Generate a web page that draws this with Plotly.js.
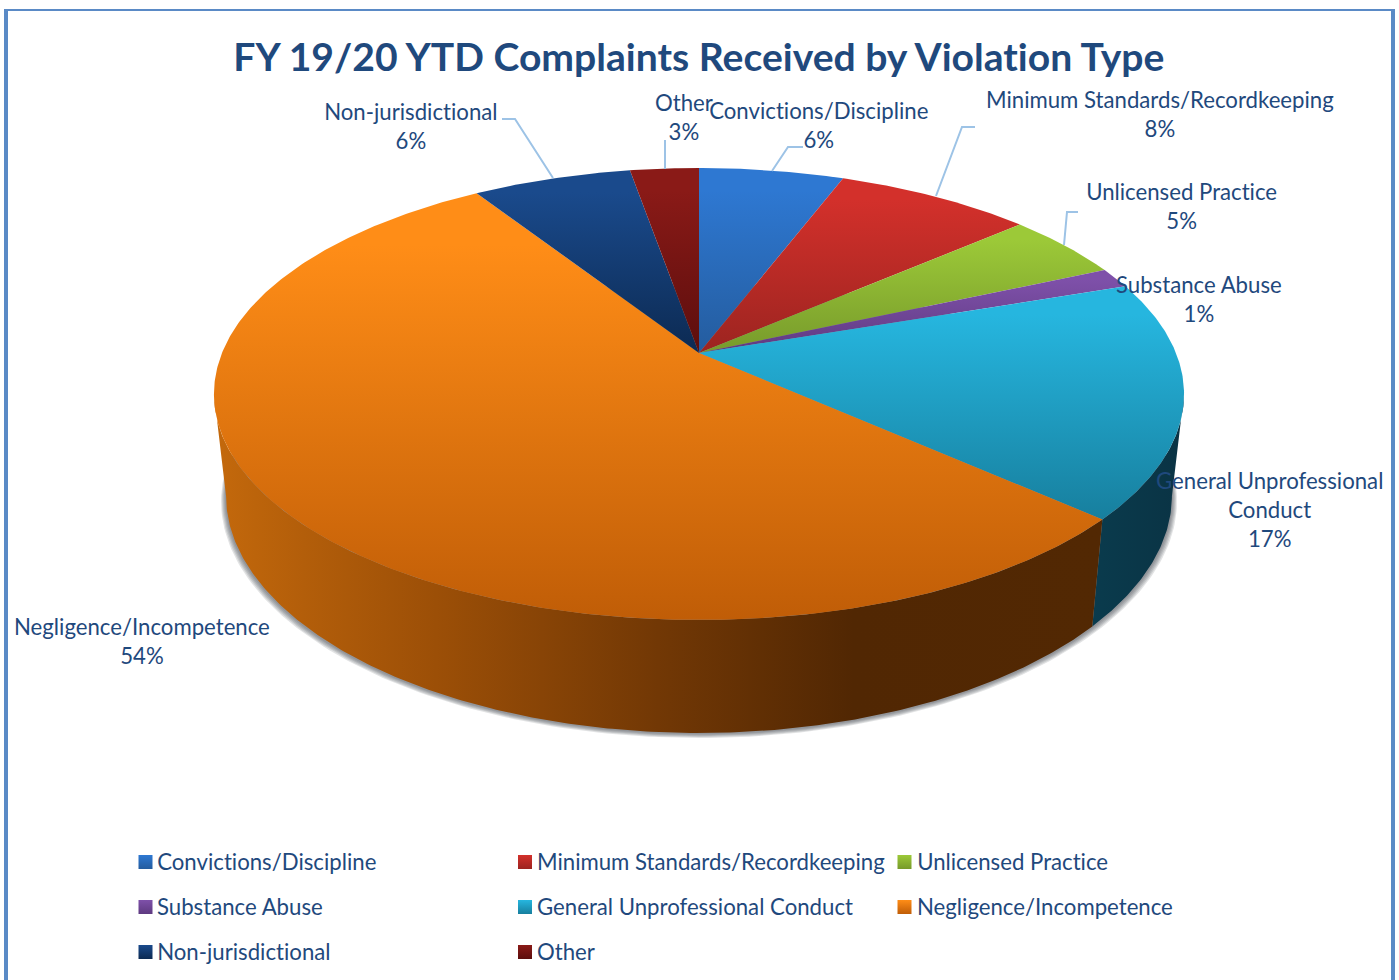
<!DOCTYPE html>
<html>
<head>
<meta charset="utf-8">
<script src="https://cdn.plot.ly/plotly-3.0.1.min.js"></script>
<style>html,body{margin:0;padding:0;background:#fff}#chart{width:1399px;height:980px}
#chart text{font-variant-ligatures:none;font-feature-settings:"liga" 0}</style>
</head>
<body>
<div id="chart"></div>
<script>
// ---- data ----
const categories = ["Convictions/Discipline","Minimum Standards/Recordkeeping","Unlicensed Practice","Substance Abuse","General Unprofessional Conduct","Negligence/Incompetence","Non-jurisdictional","Other"];
const shares = [5.75,7.82,4.75,1.45,16.9,54.3,6.3,2.73];
const labelLines = [["Convictions/Discipline"],["Minimum Standards/Recordkeeping"],["Unlicensed Practice"],["Substance Abuse"],["General Unprofessional","Conduct"],["Negligence/Incompetence"],["Non-jurisdictional"],["Other"]];
const chartTitle = "FY 19/20 YTD Complaints Received by Violation Type";

// ---- styles ----
const topLight = ["#2E78D2","#D3302B","#9CC938","#7E50A9","#26B6DF","#FF8D17","#1A4A8C","#8A1A17"];
const topDark  = ["#245C9E","#9C2420","#779A2B","#5E3A80","#177F9E","#C05D07","#0C2A52","#5C0E0D"];
const labelPos = [[819,125],[1160,114],[1181,206],[1199,299],[1269,509],[142,641],[411,126],[684,117]];
const leaders = ["M502,119 L515,119 L553,178","M665,140 L665,169","M803,147 L788,147 L772,171","M975,127 L962,127 L936,196","M1078,212 L1067,212 L1064,245"];
const TEXT = "#1F497D", FONT = "Lato, 'Open Sans', sans-serif";

// ---- projected disc geometry ----
const CX=699, APEX=353, A=154.5, C=-0.1814, R=477, DEPTH=113, SHRINK=0.975;
function topPt(deg){const t=deg*Math.PI/180,u=Math.sin(t),v=-Math.cos(t),d=1+C*v;return [CX+R*u/d,(A*v+APEX)/d];}
function botPt(deg){const p=topPt(deg),s=Math.sin(deg*Math.PI/180);return [CX+(p[0]-CX)*SHRINK,p[1]+DEPTH-11*s*s];}
function arc(fn,a,b){const n=Math.max(2,Math.ceil(Math.abs(b-a)/0.5)),o=[];for(let i=0;i<=n;i++)o.push(fn(a+(b-a)*i/n));return o;}
const total=shares.reduce((a,b)=>a+b,0);
let cum=0;const edges=shares.map(s=>{const e=[cum*360/total,(cum+s)*360/total];cum+=s;return e;});
const RIGHT=100.45, LEFT=259.55;

const traces=[];
function polyTrace(pts,extra){return Object.assign({type:"scatter",mode:"lines",x:pts.map(p=>p[0]),y:pts.map(p=>p[1]),fill:"toself",line:{width:0},hoverinfo:"skip",showlegend:false},extra);}

// soft shadow under the disc
[5,4,3,2,1].forEach(k=>{
  const pts=[];for(let d=0;d<=360;d+=1){const p=botPt(d);pts.push([CX+(p[0]-CX)*(1+k/470),p[1]+k*0.9+0.5]);}
  traces.push(polyTrace(pts,{fillcolor:"rgba(60,65,75,0.15)"}));
});

// side walls
const wallStyles={
  4:{colorscale:[[0,"#0A3B4D"],[1,"#0A3344"]]},
  5:{colorscale:[[0,"#C4690C"],[0.1,"#B35E0A"],[0.25,"#9C4F07"],[0.5,"#723805"],[0.72,"#512703"],[1,"#522803"]]}
};
[4,5].forEach(i=>{
  const a=Math.max(edges[i][0],RIGHT), b=Math.min(edges[i][1],LEFT);
  const pts=arc(topPt,a,b).concat(arc(botPt,b,a));
  traces.push(polyTrace(pts,{fillgradient:Object.assign({type:"horizontal"},wallStyles[i])}));
});

// top face slices
categories.forEach((c,i)=>{
  const pts=[[CX,APEX]].concat(arc(topPt,edges[i][0],edges[i][1]));
  traces.push(polyTrace(pts,{name:c,fillgradient:{type:"vertical",colorscale:[[0,topDark[i]],[0.88,topLight[i]],[1,topLight[i]]]}}));
});

// legend swatches
const legX=[145.5,525,904.5], legY=[862,907,952], legText=[155,535,915];
categories.forEach((c,i)=>{
  traces.push({type:"scatter",mode:"markers",x:[legX[i%3]],y:[legY[Math.floor(i/3)]],showlegend:false,hoverinfo:"skip",
    marker:{symbol:"square",size:14,color:topLight[i],line:{width:0},gradient:{type:"vertical",color:topDark[i]}}});
});

const annotations=[];
categories.forEach((c,i)=>{
  annotations.push({x:labelPos[i][0],y:labelPos[i][1],xref:"x",yref:"y",showarrow:false,xanchor:"center",yanchor:"middle",align:"center",
    text:labelLines[i].concat([Math.round(shares[i])+"%"]).join("<br>"),font:{family:FONT,size:22.2,color:TEXT}});
  annotations.push({x:legText[i%3],y:legY[Math.floor(i/3)]-1,xref:"x",yref:"y",showarrow:false,xanchor:"left",yanchor:"middle",
    text:c,font:{family:FONT,size:22.2,color:TEXT}});
});
annotations.push({x:699,y:55,xref:"x",yref:"y",showarrow:false,xanchor:"center",yanchor:"middle",text:"<b>"+chartTitle+"</b>",font:{family:FONT,size:39.1,color:TEXT}});

const shapes=leaders.map(p=>({type:"path",path:p,xref:"x",yref:"y",line:{color:"#9DC3E6",width:2},layer:"above"}));
const frame="#5A8AC6";
[[4,9,1395,11],[4,9,8,980],[1391,9,1395,980]].forEach(r=>shapes.push({type:"rect",xref:"x",yref:"y",x0:r[0],y0:r[1],x1:r[2],y1:r[3],fillcolor:frame,line:{width:0},layer:"below"}));

Plotly.newPlot("chart",traces,{
  width:1399,height:980,margin:{l:0,r:0,t:0,b:0,pad:0},
  paper_bgcolor:"#fff",plot_bgcolor:"#fff",showlegend:false,hovermode:false,
  xaxis:{range:[0,1399],visible:false,fixedrange:true},
  yaxis:{range:[980,0],visible:false,fixedrange:true},
  annotations:annotations,shapes:shapes
},{displayModeBar:false,staticPlot:true});
</script>
</body>
</html>
